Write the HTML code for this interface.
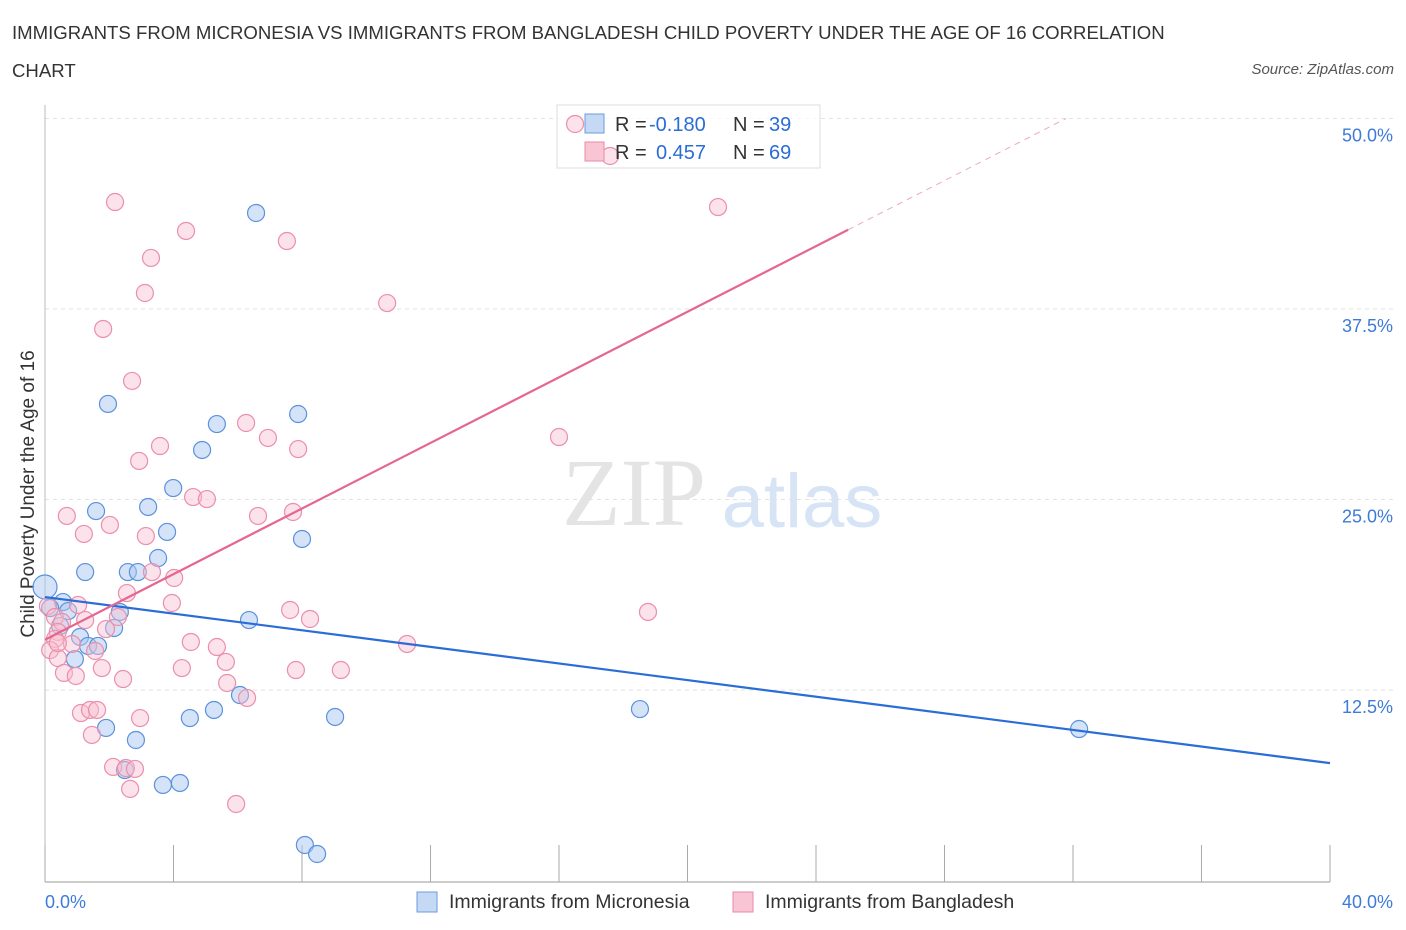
<!DOCTYPE html>
<html><head><meta charset="utf-8">
<style>
body{margin:0;background:#fff;font-family:"Liberation Sans",sans-serif;}
#wrap{position:relative;width:1406px;height:930px;overflow:hidden;}
.t{position:absolute;color:#333;font-size:18.6px;}
</style></head>
<body>
<div id="wrap">
<div class="t" style="left:12px;top:22px;">IMMIGRANTS FROM MICRONESIA VS IMMIGRANTS FROM BANGLADESH CHILD POVERTY UNDER THE AGE OF 16 CORRELATION</div>
<div class="t" style="left:12px;top:60px;">CHART</div>
<div class="t" style="right:12px;top:61px;font-size:15px;font-style:italic;color:#555;">Source: ZipAtlas.com</div>
<svg id="svg" width="1406" height="930" style="position:absolute;left:0;top:0"></svg>
</div>
<script>
const blueX=[0,0.56,0.72,1.09,0.93,1.34,1.65,1.25,1.59,1.96,2.15,2.33,2.58,2.89,3.21,3.52,3.80,3.99,4.89,5.35,1.90,2.83,2.49,3.67,4.20,4.51,5.26,6.07,6.35,6.57,7.88,8.00,9.03,8.09,8.47,18.52,32.19,0.47,0.16];
const blueY=[19.26,18.27,17.68,15.98,14.53,15.39,15.39,20.24,24.24,31.27,16.57,17.62,20.24,20.24,24.51,21.16,22.87,25.75,28.25,29.95,10.01,9.22,7.25,6.27,6.40,10.66,11.19,12.17,17.09,43.80,30.61,22.41,10.73,2.33,1.74,11.25,9.94,16.70,17.88];
const pinkX=[16.50,17.59,2.18,4.39,7.53,3.30,20.95,3.11,10.65,1.81,2.71,16.00,3.58,6.94,6.26,7.88,2.93,4.61,5.04,6.63,7.72,0.68,1.21,2.02,3.14,3.33,4.02,3.95,2.55,1.03,0.09,0.31,0.53,1.25,2.27,1.90,0.40,0.31,0.84,0.16,0.40,1.56,1.77,0.59,0.96,2.43,4.54,5.35,4.26,5.63,5.67,6.29,7.63,8.25,7.81,9.21,11.27,18.77,1.12,1.40,1.62,2.96,1.46,2.12,2.52,2.80,2.65,5.95,0.40];
const pinkY=[49.64,47.54,44.52,42.62,41.96,40.85,44.19,38.55,37.89,36.19,32.78,29.10,28.51,29.04,30.02,28.31,27.53,25.16,25.03,23.92,24.18,23.92,22.74,23.33,22.60,20.24,19.85,18.21,18.86,18.08,18.01,17.29,16.96,17.09,17.29,16.50,16.31,15.85,15.52,15.12,14.60,15.06,13.94,13.62,13.42,13.22,15.65,15.32,13.94,14.34,12.96,11.98,17.75,17.16,13.81,13.81,15.52,17.62,10.99,11.19,11.19,10.66,9.55,7.45,7.38,7.32,6.01,5.02,15.58];
const blueLine=[18.6,7.7];
const pinkLine=[15.8,1.076];
const yTicks=[12.5,25,37.5,50];
const yTickLabels=["12.5%","25.0%","37.5%","50.0%"];
const xTicks=[0,4,8,12,16,20,24,28,32,36,40];

const NS="http://www.w3.org/2000/svg";
const svg=document.getElementById('svg');
const X=v=>45+v*32.125;
const Y=v=>880.5-v*15.24;
function el(tag,attrs,parent){const e=document.createElementNS(NS,tag);for(const k in attrs)e.setAttribute(k,attrs[k]);(parent||svg).appendChild(e);return e;}

let w=el('text',{x:634,y:525,'font-size':96,'font-family':'Liberation Serif','fill':'#e4e4e4','text-anchor':'middle'});w.textContent='ZIP';

let w2=el('text',{x:802,y:527,'font-size':76,'font-family':'Liberation Sans','fill':'#d6e4f5','text-anchor':'middle'});w2.textContent='atlas';


yTicks.forEach((t,i)=>{
 const g=el('line',{x1:45,x2:1395,y1:Y(t),y2:Y(t),stroke:'#e2e2e2','stroke-dasharray':'4,4'});
 
 const tx=el('text',{x:1393,y:Y(t)+23,'font-size':18,fill:'#3d7bd9','text-anchor':'end'});tx.textContent=yTickLabels[i];
 
});
const ax=el('line',{x1:45,x2:1330,y1:882,y2:882,stroke:'#999'});

const ay=el('line',{x1:45,x2:45,y1:105,y2:882,stroke:'#bbb'});

xTicks.forEach(t=>{const l=el('line',{x1:X(t),x2:X(t),y1:845,y2:882,stroke:'#aaa'});
 });
let xl=el('text',{x:45,y:908,'font-size':18,fill:'#3d7bd9'});xl.textContent='0.0%';

let xr=el('text',{x:1393,y:908,'font-size':18,fill:'#3d7bd9','text-anchor':'end'});xr.textContent='40.0%';

let yt=el('text',{x:34,y:494,'font-size':19,fill:'#333','text-anchor':'middle',transform:'rotate(-90 34 494)'});yt.textContent='Child Poverty Under the Age of 16';


const lg=el('g',{});
el('rect',{x:557,y:105,width:263,height:63,fill:'rgba(255,255,255,0.75)',stroke:'#ddd'},lg);

blueX.forEach((x,i)=>{const c=el('circle',{cx:X(x),cy:Y(blueY[i]),r:i==0?12:8.5,fill:'rgba(170,200,240,0.5)',stroke:'#5b92dd','stroke-width':1.2});
 });
pinkX.forEach((x,i)=>{const c=el('circle',{cx:X(x),cy:Y(pinkY[i]),r:8.5,fill:'rgba(248,190,208,0.45)',stroke:'#eb8fab','stroke-width':1.2});
 });

const bl=el('line',{x1:X(0),y1:Y(blueLine[0]),x2:X(40),y2:Y(blueLine[1]),stroke:'#2a6dd6','stroke-width':2.2});

const pEnd=25, pDash=(50-pinkLine[0])/pinkLine[1];
const pl=el('line',{x1:X(0),y1:Y(pinkLine[0]),x2:X(pEnd),y2:Y(pinkLine[0]+pinkLine[1]*pEnd),stroke:'#e56690','stroke-width':2.2});

const pd=el('line',{x1:X(pEnd),y1:Y(pinkLine[0]+pinkLine[1]*pEnd),x2:X(pDash),y2:Y(50),stroke:'#eeaabf','stroke-width':1,'stroke-dasharray':'6,5'});


const lg2=el('g',{});
el('rect',{x:585,y:114,width:19,height:19,fill:'#c5d9f5',stroke:'#6c9be0'},lg2);
el('rect',{x:585,y:142,width:19,height:19,fill:'#f9c5d5',stroke:'#e88aa8'},lg2);
function lt(x,y,s,c){const t=el('text',{x:x,y:y,'font-size':20,fill:c},lg2);t.textContent=s;return t;}
lt(615,131,'R =','#333');lt(649,131,'-0.180','#2a6dd6');lt(733,131,'N =','#333');lt(769,131,'39','#2a6dd6');
lt(615,159,'R =','#333');lt(656,159,'0.457','#2a6dd6');lt(733,159,'N =','#333');lt(769,159,'69','#2a6dd6');

const bg=el('g',{});
el('rect',{x:417,y:892,width:20,height:20,fill:'#c5d9f5',stroke:'#6c9be0'},bg);
let b1=el('text',{x:449,y:908,'font-size':19.5,fill:'#333'},bg);b1.textContent='Immigrants from Micronesia';
el('rect',{x:733,y:892,width:20,height:20,fill:'#f9c5d5',stroke:'#e88aa8'},bg);
let b2=el('text',{x:765,y:908,'font-size':19.5,fill:'#333'},bg);b2.textContent='Immigrants from Bangladesh';
</script>
</body></html>
